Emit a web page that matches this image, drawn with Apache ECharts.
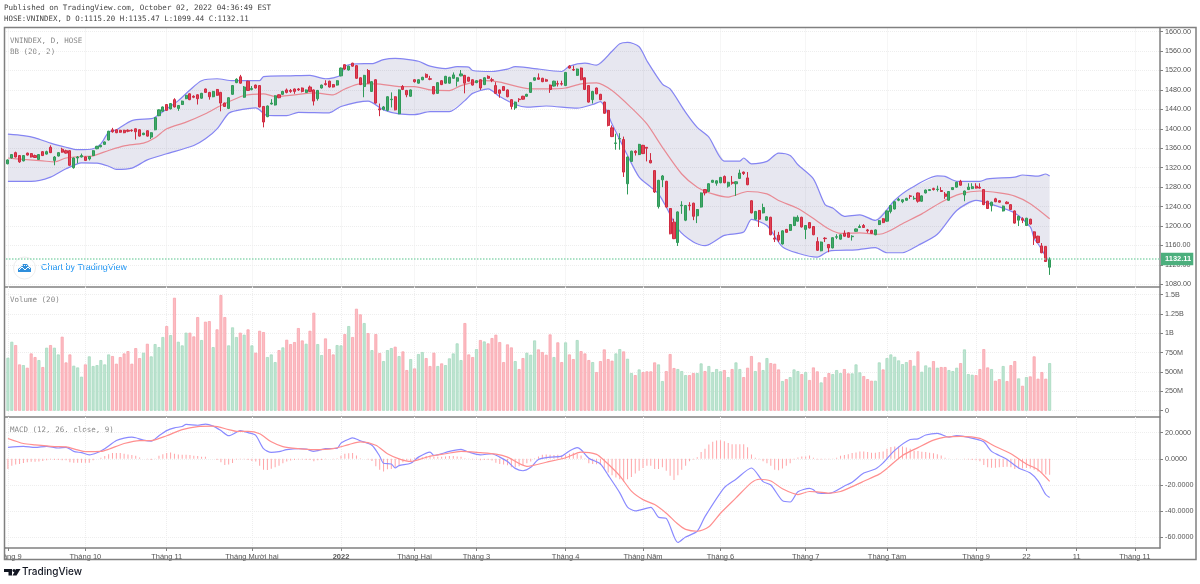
<!DOCTYPE html>
<html>
<head>
    <meta charset="UTF-8" />
    <title>VNINDEX</title>
    <script type="text/javascript" src="https://cdnjs.cloudflare.com/ajax/libs/echarts/6.0.0/echarts.min.js"></script>
    <style>
        html, body { margin: 0; padding: 0; background: #fff; }
    </style>
</head>
<body>

<div id="main" style="width: 1200px;height: 584px;"></div>

<script>
    // daily candles
    var opens = [
        1328,1340,1351,1345,1334,1350,1349,1345,1337,1353,
        1348,1362,1335,1344,1358,1355,1355,1320,1340,1342,
        1342,1338,1345,1359,1363,1368,1377,1398,1398,1397,
        1397,1397,1397,1400,1398,1388,1396,1383,1398,1427,
        1436,1450,1441,1460,1442,1450,1462,1472,1467,1470,
        1463,1482,1475,1466,1481,1475,1453,1442,1471,1495,
        1507,1465,1498,1481,1490,1489,1446,1425,1451,1449,
        1470,1471,1480,1479,1482,1482,1484,1475,1486,1480,
        1462,1484,1493,1498,1491,1490,1509,1532,1521,1535,
        1530,1505,1487,1520,1477,1501,1441,1440,1438,1460,
        1466,1431,1487,1479,1467,1501,1494,1501,1512,1503,
        1487,1473,1499,1494,1494,1504,1498,1509,1510,1506,
        1501,1495,1501,1491,1508,1501,1489,1480,1487,1480,
        1460,1443,1461,1467,1467,1475,1500,1505,1504,1501,
        1490,1488,1493,1493,1489,1529,1522,1510,1525,1505,
        1489,1460,1484,1471,1455,1438,1402,1370,1379,1378,
        1287,1333,1354,1347,1366,1362,1335,1314,1240,1295,
        1292,1236,1208,1166,1242,1212,1243,1247,1221,1239,
        1275,1271,1290,1288,1289,1302,1282,1290,1287,1298,
        1311,1299,1252,1214,1232,1227,1212,1218,1175,1181,
        1163,1193,1191,1201,1210,1218,1193,1207,1199,1168,
        1149,1175,1162,1155,1177,1173,1185,1186,1178,1189,
        1197,1201,1192,1191,1182,1203,1215,1210,1230,1235,
        1253,1250,1253,1262,1256,1268,1251,1268,1273,1277,
        1275,1273,1266,1253,1275,1280,1292,1264,1275,1277,
        1282,1280,1275,1251,1242,1256,1252,1231,1249,1244,
        1231,1212,1215,1201,1214,1188,1179,1159,1158,1115.2
    ];
    var closes = [
        1336,1347,1342,1332,1345,1346,1342,1341,1347,1345,
        1353,1351,1342,1351,1352,1350,1325,1340,1342,1345,
        1335,1343,1355,1364,1366,1373,1395,1394,1392,1393,
        1392,1395,1396,1394,1385,1391,1385,1392,1423,1439,
        1445,1438,1452,1445,1448,1457,1469,1460,1465,1462,
        1473,1475,1466,1477,1469,1453,1446,1464,1489,1502,
        1494,1486,1479,1483,1484,1445,1414,1447,1453,1468,
        1464,1477,1475,1477,1477,1480,1477,1480,1477,1457,
        1479,1490,1491,1486,1486,1499,1525,1523,1529,1529,
        1504,1491,1510,1494,1497,1453,1439,1445,1466,1461,
        1439,1480,1481,1470,1480,1497,1501,1506,1506,1502,
        1472,1495,1491,1508,1506,1511,1505,1513,1494,1498,
        1490,1499,1484,1505,1504,1500,1473,1473,1479,1466,
        1446,1455,1460,1461,1471,1495,1505,1502,1497,1498,
        1481,1498,1492,1492,1516,1525,1521,1523,1501,1481,
        1455,1477,1472,1460,1432,1407,1384,1371,1380,1311,
        1342,1354,1351,1368,1349,1360,1330,1270,1294,1303,
        1239,1184,1174,1229,1243,1242,1242,1220,1234,1268,
        1268,1287,1294,1293,1300,1289,1290,1288,1291,1309,
        1308,1285,1227,1230,1214,1238,1219,1182,1173,1171,
        1190,1187,1203,1218,1218,1198,1201,1196,1182,1150,
        1167,1174,1155,1176,1178,1182,1179,1177,1179,1194,
        1199,1197,1190,1185,1192,1211,1207,1231,1242,1250,
        1255,1254,1257,1261,1257,1251,1262,1274,1275,1275,
        1276,1271,1261,1271,1279,1290,1284,1272,1280,1281,
        1278,1278,1244,1236,1249,1250,1249,1241,1246,1234,
        1206,1220,1212,1216,1204,1175,1166,1145,1127,1132.11
    ];
    var lows = [
        1327,1339,1341,1330,1333,1345,1341,1340,1336,1344,
        1347,1350,1325,1343,1351,1349,1324,1318,1329,1341,
        1334,1335,1344,1358,1362,1367,1376,1392,1391,1392,
        1391,1393,1394,1378,1384,1387,1384,1379,1397,1426,
        1435,1437,1440,1444,1437,1449,1461,1459,1463,1450,
        1462,1474,1460,1465,1468,1436,1445,1441,1470,1494,
        1493,1464,1478,1479,1483,1444,1403,1424,1450,1448,
        1463,1470,1473,1474,1472,1478,1475,1474,1476,1448,
        1458,1483,1489,1485,1485,1489,1508,1521,1520,1528,
        1503,1490,1465,1493,1476,1452,1426,1438,1436,1444,
        1438,1430,1480,1465,1466,1495,1493,1500,1505,1500,
        1471,1472,1490,1493,1493,1503,1487,1508,1473,1497,
        1489,1494,1480,1490,1503,1496,1472,1464,1478,1465,
        1440,1439,1455,1460,1466,1474,1499,1501,1496,1497,
        1474,1487,1487,1489,1488,1524,1519,1509,1500,1480,
        1454,1452,1471,1459,1431,1405,1383,1357,1357,1301,
        1265,1332,1345,1346,1348,1333,1329,1268,1236,1280,
        1238,1183,1173,1159,1225,1210,1232,1212,1206,1238,
        1263,1270,1289,1283,1288,1288,1279,1285,1262,1297,
        1305,1284,1226,1213,1198,1226,1211,1181,1167,1167,
        1162,1186,1190,1200,1209,1197,1173,1195,1181,1149,
        1148,1167,1146,1154,1173,1172,1178,1176,1170,1188,
        1196,1196,1186,1184,1181,1202,1206,1209,1226,1234,
        1251,1247,1252,1256,1254,1248,1250,1267,1272,1273,
        1271,1270,1256,1252,1274,1279,1283,1251,1274,1276,
        1277,1277,1243,1235,1230,1249,1248,1230,1245,1233,
        1205,1200,1206,1200,1203,1161,1165,1144,1126,1099.44
    ];
    var highs = [
        1337,1348,1353,1346,1346,1351,1350,1347,1348,1354,
        1355,1366,1344,1352,1361,1357,1356,1341,1344,1349,
        1343,1344,1356,1365,1367,1374,1396,1402,1399,1398,
        1398,1399,1399,1401,1399,1392,1397,1393,1424,1440,
        1446,1451,1453,1463,1449,1458,1470,1473,1469,1471,
        1474,1483,1476,1478,1482,1476,1454,1465,1490,1504,
        1511,1488,1499,1488,1491,1490,1447,1448,1461,1469,
        1471,1478,1483,1482,1483,1484,1485,1481,1489,1481,
        1480,1491,1500,1499,1492,1500,1526,1533,1530,1536,
        1531,1506,1511,1523,1498,1502,1452,1447,1467,1475,
        1467,1481,1490,1480,1481,1502,1502,1507,1514,1509,
        1488,1496,1500,1509,1507,1516,1506,1521,1511,1507,
        1502,1500,1502,1506,1510,1505,1496,1481,1488,1481,
        1461,1456,1463,1468,1472,1496,1506,1514,1505,1503,
        1491,1499,1499,1499,1517,1531,1530,1524,1526,1506,
        1490,1478,1485,1472,1456,1439,1407,1390,1391,1384,
        1343,1355,1356,1369,1367,1362,1350,1315,1295,1305,
        1293,1237,1215,1230,1251,1243,1249,1248,1235,1269,
        1276,1288,1295,1294,1301,1304,1291,1303,1292,1316,
        1312,1311,1253,1231,1233,1246,1220,1219,1191,1188,
        1191,1194,1204,1219,1222,1219,1202,1208,1200,1177,
        1168,1177,1163,1177,1183,1183,1191,1187,1181,1195,
        1203,1204,1194,1192,1193,1212,1216,1232,1243,1251,
        1258,1255,1258,1264,1262,1269,1263,1275,1276,1279,
        1283,1280,1270,1272,1280,1291,1295,1273,1288,1288,
        1288,1288,1276,1252,1250,1258,1253,1242,1251,1245,
        1232,1221,1218,1217,1215,1189,1180,1165,1159,1135.47
    ];
    // volume in millions
    var volumes = [
        685,892,849,599,590,556,741,694,655,565,
        815,849,815,728,957,625,728,582,560,440,
        599,703,578,590,655,599,728,707,608,694,
        741,771,608,810,681,750,866,703,862,823,
        953,1095,978,1461,892,845,1009,1009,961,1211,
        914,1151,1159,823,1052,1496,1211,845,1078,953,
        1009,983,1052,845,750,1034,1017,694,728,629,
        784,819,918,862,888,1069,909,866,1034,1267,
        862,720,935,797,728,849,845,991,1095,953,
        1319,1246,1134,1004,784,991,746,642,784,810,
        828,707,767,526,668,547,733,759,681,578,
        750,578,612,590,677,741,871,655,1134,728,
        694,797,914,896,871,940,983,888,629,858,
        819,642,539,681,750,724,909,793,759,724,
        987,694,884,629,884,728,668,914,771,741,
        655,629,500,642,793,668,647,741,797,767,
        672,487,461,534,500,509,509,625,599,384,
        513,733,552,539,513,461,461,487,487,612,
        513,578,500,539,509,526,435,539,625,539,
        435,556,707,513,625,526,681,616,608,534,
        384,409,435,534,513,474,500,397,560,509,
        366,435,487,474,526,487,539,483,483,599,
        496,448,409,388,388,625,534,681,728,698,
        651,603,629,655,582,767,504,586,560,642,
        556,565,565,526,513,556,616,793,474,465,
        461,539,797,560,539,388,409,578,384,590,
        642,418,323,435,444,703,414,500,414,616
    ];
    // macd histogram
    var macdHist = [
        -7.8,-5.2,-4.4,-3.9,-3.1,-2.6,-2.3,-2.3,-2,-1.6,
        -1,-0.5,-0.8,-0.8,-1,-1,-2.6,-2.9,-2.9,-2.9,
        -2.9,-2.9,-1,0.1,0.8,2.1,3.6,4.4,4.4,4.4,
        3.9,3.4,2.9,2.3,1,0,-0.3,-0.8,0.3,2.3,
        3.6,4.4,4.9,3.9,3.4,3.1,3.1,2.9,2.3,2.1,
        1.6,1.6,0,0,-0.8,-2.6,-4.7,-4.4,-3.1,-0.5,
        -0.3,-0.3,-0.8,-1.6,-2.1,-5.2,-8.3,-8.6,-7.5,-6.5,
        -5.2,-3.4,-2.1,-1.3,-0.8,-0.5,-0.5,-0.8,-0.8,-1.8,
        -1,-0.8,-0.3,0,-0.3,0.5,2.3,3.9,4.2,4.4,
        2.6,0.5,0,-0.5,-1.6,-5.7,-8.3,-9.6,-8,-7.8,
        -6.5,-5.2,-2.6,-1.3,-2.1,0.8,0.5,1.3,2.1,2.6,
        1.8,1.6,1.6,1.8,2.1,2.1,1.8,1.6,0.5,0.3,
        -0.3,-0.5,-1,-0.8,-0.8,-1.3,-2.9,-3.9,-4.4,-4.9,
        -6.5,-6.5,-5.7,-4.7,-3.4,-2.1,0.5,1.8,3.1,3.4,
        3.1,2.9,3.1,2.6,3.1,3.9,4.7,3.9,2.6,0.5,
        -3.4,-3.9,-4.2,-4.7,-7.3,-10.4,-12.5,-14.3,-15.6,-17.4,
        -15.6,-13.8,-11.2,-9.1,-7,-5.2,-5.2,-7.8,-7.8,-6.5,
        -9.1,-13,-16.1,-12.5,-8.3,-5.2,-1.8,-0.5,1.3,5.2,
        7.8,10.9,13,14,14.3,13.5,12.2,11.2,11.2,11.2,
        11.2,8.8,3.4,0.8,-0.3,-1.8,-3.4,-5.2,-8.3,-8.8,
        -7.3,-5.2,-3.4,-0.5,1,1.8,1.8,2.6,0.8,-0.5,
        -0.5,-0.3,-0.3,0.3,0.8,2.3,2.9,3.6,4.4,4.9,
        5.7,5.7,5.2,4.7,4.7,5.2,5.7,7.8,9.1,9.4,
        9.4,9.4,8.6,7.8,6.2,6,5.5,5.2,4.7,4.2,
        3.6,2.6,0.8,0.3,0,0.3,0,-0.3,-0.5,-0.8,
        -1,-1.8,-4.7,-6.5,-6.8,-6.8,-6.5,-6.2,-6,-6.5,
        -7.8,-7.3,-7.3,-7,-7.3,-8.3,-9.6,-10.9,-12,-12.2
    ];

    // indicator lines: [bar number, value]
    var bbUpper = [
        [0,1389],[4,1386],[7,1381.5],[11,1370.5],[15,1362],[18,1357],[22,1359],[24,1369],[26,1393],[28,1398],
        [32,1417],[37,1421],[38,1424],[41,1441],[44,1458],[47,1480],[50,1499],[54,1503],[58,1499],[65,1499],
        [66,1507.5],[73,1509],[78,1510],[82,1503],[86,1510],[87,1529],[92,1534],[94,1534],[97,1542.5],[100,1545],
        [103,1543],[106,1539],[109,1529],[113,1524],[116,1528],[119,1527],[120,1520],[125,1518],[129,1523],[131,1528],
        [135,1525],[143,1518],[145,1529],[149,1535],[152,1531],[156,1559.5],[158,1575],[160,1578],[163,1569],[165,1540],
        [169,1492],[171,1482],[175,1434],[178,1403],[181,1383],[185,1333.5],[189,1333.5],[190,1340],[192,1328],[196,1333],
        [199,1350],[202,1345],[204,1326],[208,1297],[211,1244],[213,1237],[216,1220],[220,1223],[224,1211.5],[229,1253],
        [233,1277],[240,1303],[242,1302],[245,1292],[251,1292],[253,1297],[260,1300.6],[262,1305],[266,1302.6],[268,1307],[269,1303]
    ];
    var bbBasis = [
        [0,1340],[4,1337],[9,1334],[12,1332],[15,1340],[19,1343],[22,1344.5],[26,1355.5],[30,1365],[35,1370.5],
        [38,1381.5],[41,1400],[46,1413.7],[51,1431],[55,1448],[61,1468.5],[66,1472],[69,1466.5],[74,1470],[79,1474],
        [84,1470],[87,1482],[91,1492.5],[95,1492.5],[101,1487],[105,1487],[109,1480],[114,1478.7],[117,1489],[123,1499],
        [127,1496],[135,1482],[139,1482],[144,1484],[148,1492.4],[152,1494.5],[156,1478.7],[161,1443],[165,1410],[169,1362],
        [174,1307],[178,1280],[182,1266],[186,1259.5],[191,1271],[196,1266],[199,1252.6],[204,1236],[209,1210],[212,1194],
        [215,1185],[220,1186],[225,1183],[227,1187.6],[231,1204.7],[236,1225],[241,1249],[246,1266],[251,1272],[256,1268],
        [260,1261.5],[264,1246],[269,1215]
    ];
    var bbLower = [
        [0,1291.7],[6,1291.7],[11,1300.6],[15,1317.7],[19,1330],[23,1329.4],[26,1323],[28,1316.4],[32,1319],[36,1336],
        [41,1348.6],[48,1365.7],[51,1379.4],[54,1400],[57,1432],[59,1437.6],[64,1443],[67,1427.4],[72,1427],[75,1434],
        [83,1433],[86,1446],[93,1456.8],[97,1439],[101,1430.8],[105,1429.4],[109,1435.5],[114,1435.5],[118,1458],[120,1473],
        [124,1482],[127,1466.4],[131,1450],[134,1444.5],[139,1447],[147,1442.4],[151,1450],[153,1456],[156,1410],[160,1345],
        [163,1300.6],[166,1280],[168,1266],[170,1239],[173,1194],[177,1167],[180,1159.5],[185,1180.7],[190,1187.6],[192,1213.6],
        [196,1201],[200,1157],[204,1144],[209,1136],[212,1148.5],[219,1151],[224,1155.4],[227,1145],[231,1145],[235,1160],
        [240,1183],[245,1232],[250,1252.6],[255,1242],[260,1226.6],[264,1198],[265,1174],[266,1163.5],[268,1137.6],[269,1126]
    ];
    var macdLine = [
        [0,8.8],[4,9.6],[7,8.8],[10,9.6],[13,8.3],[15,8.8],[17,5.7],[19,4.7],[21,3.1],[23,4.7],
        [25,7.8],[28,14],[30,15.9],[32,16.6],[33,16.1],[35,14.3],[37,13.5],[39,17.7],[41,21.6],[43,23.7],
        [45,24.7],[46,26.3],[49,25.7],[51,26.5],[53,25],[55,21.6],[57,17.7],[59,20.3],[60,21.6],[62,20],
        [64,17.9],[66,7.8],[68,4.9],[70,5.5],[72,7],[75,7.8],[77,7.5],[79,5.7],[82,7.8],[85,8],
        [86,12],[88,15],[89,16.1],[91,13.8],[94,10.4],[96,2],[97,-3.4],[99,-3.9],[100,-7],[101,-5.2],
        [104,-3.4],[106,1.3],[109,5.2],[110,2.6],[114,5.7],[117,7.3],[119,5.2],[122,3.1],[125,3.9],[127,1.3],
        [129,-2.1],[131,-7.3],[133,-9.1],[135,-6.5],[137,-0.5],[140,1.3],[143,2.1],[145,6],[147,8.6],[148,7],
        [150,0.5],[153,-3.9],[155,-12.5],[158,-26],[160,-36.9],[162,-39.8],[166,-37.2],[168,-44.7],[170,-45.5],[173,-64],
        [175,-59.8],[178,-55.4],[180,-44.2],[185,-22],[188,-15.6],[192,-7],[195,-17.4],[197,-20],[200,-32],[202,-33],
        [204,-25.2],[207,-22.6],[208,-23.7],[209,-26],[212,-26.5],[216,-20.8],[218,-17.9],[221,-10.9],[224,-7.8],[226,-3.1],
        [229,6.5],[233,14.8],[235,15.3],[237,18.2],[240,19.5],[243,16.6],[245,17.7],[250,15.1],[252,13],[254,5.7],
        [256,2.6],[258,-0.5],[261,-7],[264,-10.9],[266,-16.9],[268,-27.3],[269,-29.6]
    ];
    var signalLine = [
        [0,15.6],[4,11.7],[7,10.7],[12,9.4],[15,9.1],[18,6.8],[20,5.5],[24,5.7],[26,7.3],[30,11.7],
        [34,14],[37,14],[41,17.7],[45,22.4],[49,24.7],[53,25],[57,22.4],[59,21],[62,21],[65,19.2],
        [68,13],[71,9.4],[75,7.8],[79,7],[84,7.8],[88,10.9],[91,13],[95,10.4],[98,3.9],[101,0],
        [104,-2],[109,2],[113,3.9],[117,5.7],[122,4.7],[126,3.6],[129,1.3],[134,-5.7],[139,-2.6],[144,0.8],
        [148,5.2],[152,3.4],[154,-1.3],[158,-13],[161,-24.7],[164,-31.2],[167,-35],[170,-41.6],[173,-49.9],[175,-54],
        [178,-55.4],[181,-52],[184,-41.6],[188,-29.9],[192,-18.2],[194,-15.6],[197,-16.9],[200,-22.9],[204,-27.3],[207,-25],
        [209,-25.2],[212,-26.3],[215,-25],[217,-22.6],[221,-17.2],[225,-11.7],[227,-7.3],[231,2.6],[235,8.6],[239,14.3],
        [242,16.6],[246,17.2],[251,15.6],[255,9.4],[259,3.9],[263,-3.9],[266,-8.3],[269,-17.2]
    ];

    // time axis
    var tickBars = [0,20,41,63,86,105,121,144,164,184,206,227,250,263,276,291];
    var tickLabels = ['Tháng 9','Tháng 10','Tháng 11','Tháng Mười hai','2022','Tháng Hai','Tháng 3','Tháng 4',
        'Tháng Năm','Tháng 6','Tháng 7','Tháng Tám','Tháng 9','22','11','Tháng 11'];

    // value axes
    var priceTicks = [1080,1120,1160,1200,1240,1280,1320,1360,1400,1440,1480,1520,1560,1600];
    var volumeTicks = [0,250,500,750,1000,1250,1500];
    var volumeTickLabels = ['0','250M','500M','750M','1B','1.25B','1.5B'];
    var macdTicks = [-60,-40,-20,0,20];
    var lastClose = 1132.11;

    var barCount = 298; // room on the right of the last candle
    var categories = [];
    for (var i = 0; i < barCount; i++) {
        categories.push(String(i));
    }

    var upColor = '#43a86b', upBorder = '#2f9a58';
    var downColor = '#e04355', downBorder = '#cf2a40';
    var gridLine = {show: true, lineStyle: {color: '#eeeeee', type: 'dotted', width: 1}};
    var axisGray = '#808080';
    var labelColor = '#555555';
    var sansFont = '"Liberation Sans", Arial, sans-serif';
    var monoFont = '"DejaVu Sans Mono", monospace';

    function isTickBar(index) {
        return tickBars.indexOf(index) >= 0;
    }

    // x axis shared settings, only the bottom one shows labels
    function makeXAxis(gridIndex, showLabels) {
        return {
            type: 'category',
            gridIndex: gridIndex,
            data: categories,
            boundaryGap: true,
            axisLine: {show: showLabels, onZero: false, lineStyle: {color: axisGray, width: 1.5}},
            axisTick: {show: showLabels, alignWithLabel: true, length: 3, interval: function (index) { return isTickBar(index); }, lineStyle: {color: axisGray}},
            axisLabel: {
                show: showLabels,
                interval: function (index) { return isTickBar(index); },
                margin: 5,
                fontFamily: sansFont,
                fontSize: 7.5,
                color: labelColor,
                formatter: function (value, index) {
                    var label = tickLabels[tickBars.indexOf(Number(value))];
                    return label === '2022' ? '{bold|2022}' : label;
                },
                rich: {bold: {fontFamily: sansFont, fontSize: 7.5, fontWeight: 'bold', color: labelColor}}
            },
            splitLine: {show: true, alignWithLabel: true, interval: function (index) { return isTickBar(index); }, lineStyle: gridLine.lineStyle}
        };
    }

    function makeYAxis(gridIndex, min, max, ticks, formatter) {
        return {
            type: 'value',
            gridIndex: gridIndex,
            position: 'right',
            min: min,
            max: max,
            scale: true,
            axisLine: {show: true, lineStyle: {color: axisGray, width: 1.5}},
            axisTick: {show: true, length: 3, customValues: ticks, lineStyle: {color: axisGray}},
            axisLabel: {show: true, customValues: ticks, margin: 5, fontFamily: sansFont, fontSize: 7.2, color: labelColor, formatter: formatter},
            splitLine: gridLine
        };
    }

    var candleData = opens.map(function (o, i) {
        return [o, closes[i], lows[i], highs[i]];
    });
    var volumeData = volumes.map(function (v, i) {
        var up = closes[i] >= opens[i];
        return {
            value: v,
            itemStyle: {
                color: up ? '#bfe4d2' : '#fcbcc2',
                borderColor: up ? '#a6dabf' : '#f9a4ad',
                borderWidth: 0.8
            }
        };
    });

    function lineSeries(name, data, color, xIndex, z) {
        return {
            name: name,
            type: 'line',
            data: data,
            xAxisIndex: xIndex,
            yAxisIndex: xIndex,
            showSymbol: false,
            smooth: 0.25,
            z: z,
            lineStyle: {color: color, width: 1.2}
        };
    }

    var chart = echarts.init(document.getElementById('main'));

    var option = {
        animation: false,
        backgroundColor: '#ffffff',
        grid: [
            {left: 6, right: 40, top: 27.5, height: 259.5, outerBoundsMode: 'none'},
            {left: 6, right: 40, top: 287, height: 130, outerBoundsMode: 'none'},
            {left: 6, right: 40, top: 417, height: 131, outerBoundsMode: 'none'}
        ],
        xAxis: [makeXAxis(0, false), makeXAxis(1, false), makeXAxis(2, true)],
        yAxis: [
            makeYAxis(0, 1074.5, 1608.5, priceTicks, function (v) { return v.toFixed(2); }),
            makeYAxis(1, -81, 1600, volumeTicks, function (v) { return volumeTickLabels[volumeTicks.indexOf(v)]; }),
            makeYAxis(2, -68.2, 32, macdTicks, function (v) { return v.toFixed(4); })
        ],
        series: [
            {
                // band between the two bollinger lines
                type: 'custom',
                xAxisIndex: 0,
                yAxisIndex: 0,
                data: [[0, bbUpper[0][1]]],
                z: 1,
                silent: true,
                renderItem: function (params, api) {
                    var pts = bbUpper.concat(bbLower.slice().reverse()).map(function (p) {
                        return api.coord(p);
                    });
                    return {
                        type: 'polygon',
                        shape: {points: pts, smooth: 0},
                        style: {fill: 'rgba(33, 33, 120, 0.11)', stroke: 'none'}
                    };
                }
            },
            lineSeries('Upper', bbUpper, '#8585f2', 0, 2),
            lineSeries('Lower', bbLower, '#8585f2', 0, 2),
            lineSeries('Basis', bbBasis, '#e88a94', 0, 2),
            {
                name: 'VNINDEX',
                type: 'candlestick',
                data: candleData,
                xAxisIndex: 0,
                yAxisIndex: 0,
                barWidth: 2.6,
                z: 3,
                itemStyle: {color: upColor, color0: downColor, borderColor: upBorder, borderColor0: downBorder, borderWidth: 1},
                markLine: {
                    silent: true,
                    symbol: 'none',
                    animation: false,
                    data: [{yAxis: lastClose}],
                    lineStyle: {color: '#8fd8b2', type: 'dotted', width: 1.5},
                    label: {
                        position: 'end',
                        distance: 1,
                        formatter: '1132.11',
                        color: '#ffffff',
                        fontFamily: sansFont,
                        fontSize: 7.5,
                        fontWeight: 'bold',
                        backgroundColor: '#4caf7d',
                        padding: [2.5, 2, 2, 4]
                    }
                }
            },
            {
                name: 'Volume',
                type: 'bar',
                data: volumeData,
                xAxisIndex: 1,
                yAxisIndex: 1,
                barWidth: 3
            },
            {
                name: 'Histogram',
                type: 'bar',
                data: macdHist,
                xAxisIndex: 2,
                yAxisIndex: 2,
                barWidth: 1,
                itemStyle: {color: '#ffa5a8'}
            },
            lineSeries('MACD', macdLine, '#8a8aff', 2, 3),
            lineSeries('Signal', signalLine, '#ff8f8f', 2, 3)
        ],
        graphic: [
            {type: 'text', x: 4, y: 4.5, style: {text: 'Published on TradingView.com, October 02, 2022 04:36:49 EST', font: '7.53px ' + monoFont, fill: '#444444'}},
            {type: 'text', x: 4, y: 15.5, style: {text: 'HOSE:VNINDEX, D O:1115.20 H:1135.47 L:1099.44 C:1132.11', font: '7.4px ' + monoFont, fill: '#444444'}},
            {type: 'text', x: 10, y: 37, style: {text: 'VNINDEX, D, HOSE', font: '7.5px ' + monoFont, fill: '#888888'}},
            {type: 'text', x: 10, y: 48, style: {text: 'BB (20, 2)', font: '7.5px ' + monoFont, fill: '#888888'}},
            {type: 'text', x: 10, y: 296.5, style: {text: 'Volume (20)', font: '7.5px ' + monoFont, fill: '#888888'}},
            {type: 'text', x: 10, y: 426, style: {text: 'MACD (12, 26, close, 9)', font: '7.5px ' + monoFont, fill: '#888888'}},
            {type: 'text', x: 41, y: 263.5, style: {text: 'Chart by TradingView', font: '9px ' + sansFont, fill: '#2196f3'}},
            // cloud badge
            {type: 'circle', shape: {cx: 24.5, cy: 268, r: 11}, style: {fill: '#ffffff', stroke: '#eeeeee', lineWidth: 1}},
            {type: 'polygon', shape: {points: [[18, 272], [18, 269], [21, 267], [23, 264], [27, 264], [29, 267], [31, 268], [31, 272]]}, style: {fill: '#2f8fdc'}},
            {type: 'polyline', shape: {points: [[19, 270], [22, 267], [25, 270], [28, 267], [30, 269]]}, style: {stroke: '#ffffff', lineWidth: 1, fill: 'none'}},
            // frame and pane dividers
            {type: 'rect', shape: {x: 0, y: 548, width: 4, height: 12}, style: {fill: '#ffffff'}, z: 10},
            {type: 'rect', shape: {x: 4.5, y: 27.5, width: 1191.5, height: 532}, style: {fill: 'none', stroke: axisGray, lineWidth: 1.5}, z: 11},
            {type: 'line', shape: {x1: 4.5, y1: 287, x2: 1160, y2: 287}, style: {stroke: axisGray, lineWidth: 1.5}},
            {type: 'line', shape: {x1: 4.5, y1: 417, x2: 1160, y2: 417}, style: {stroke: axisGray, lineWidth: 1.5}},
            {type: 'line', shape: {x1: 4.5, y1: 548, x2: 6, y2: 548}, style: {stroke: axisGray, lineWidth: 1.5}},
            // logo
            {type: 'polygon', shape: {points: [[4, 569], [12, 569], [12, 575.5], [8.5, 575.5], [8.5, 572], [4, 572]]}, style: {fill: '#131722'}},
            {type: 'circle', shape: {cx: 14, cy: 570.5, r: 1.5}, style: {fill: '#131722'}},
            {type: 'polygon', shape: {points: [[16, 569], [20.5, 569], [16.5, 575.5], [12.5, 575.5]]}, style: {fill: '#131722'}},
            {type: 'text', x: 22, y: 566.5, style: {text: 'TradingView', font: '500 10px Inter, sans-serif', fill: '#131722'}}
        ]
    };

    chart.setOption(option);
</script>

</body>
</html>
